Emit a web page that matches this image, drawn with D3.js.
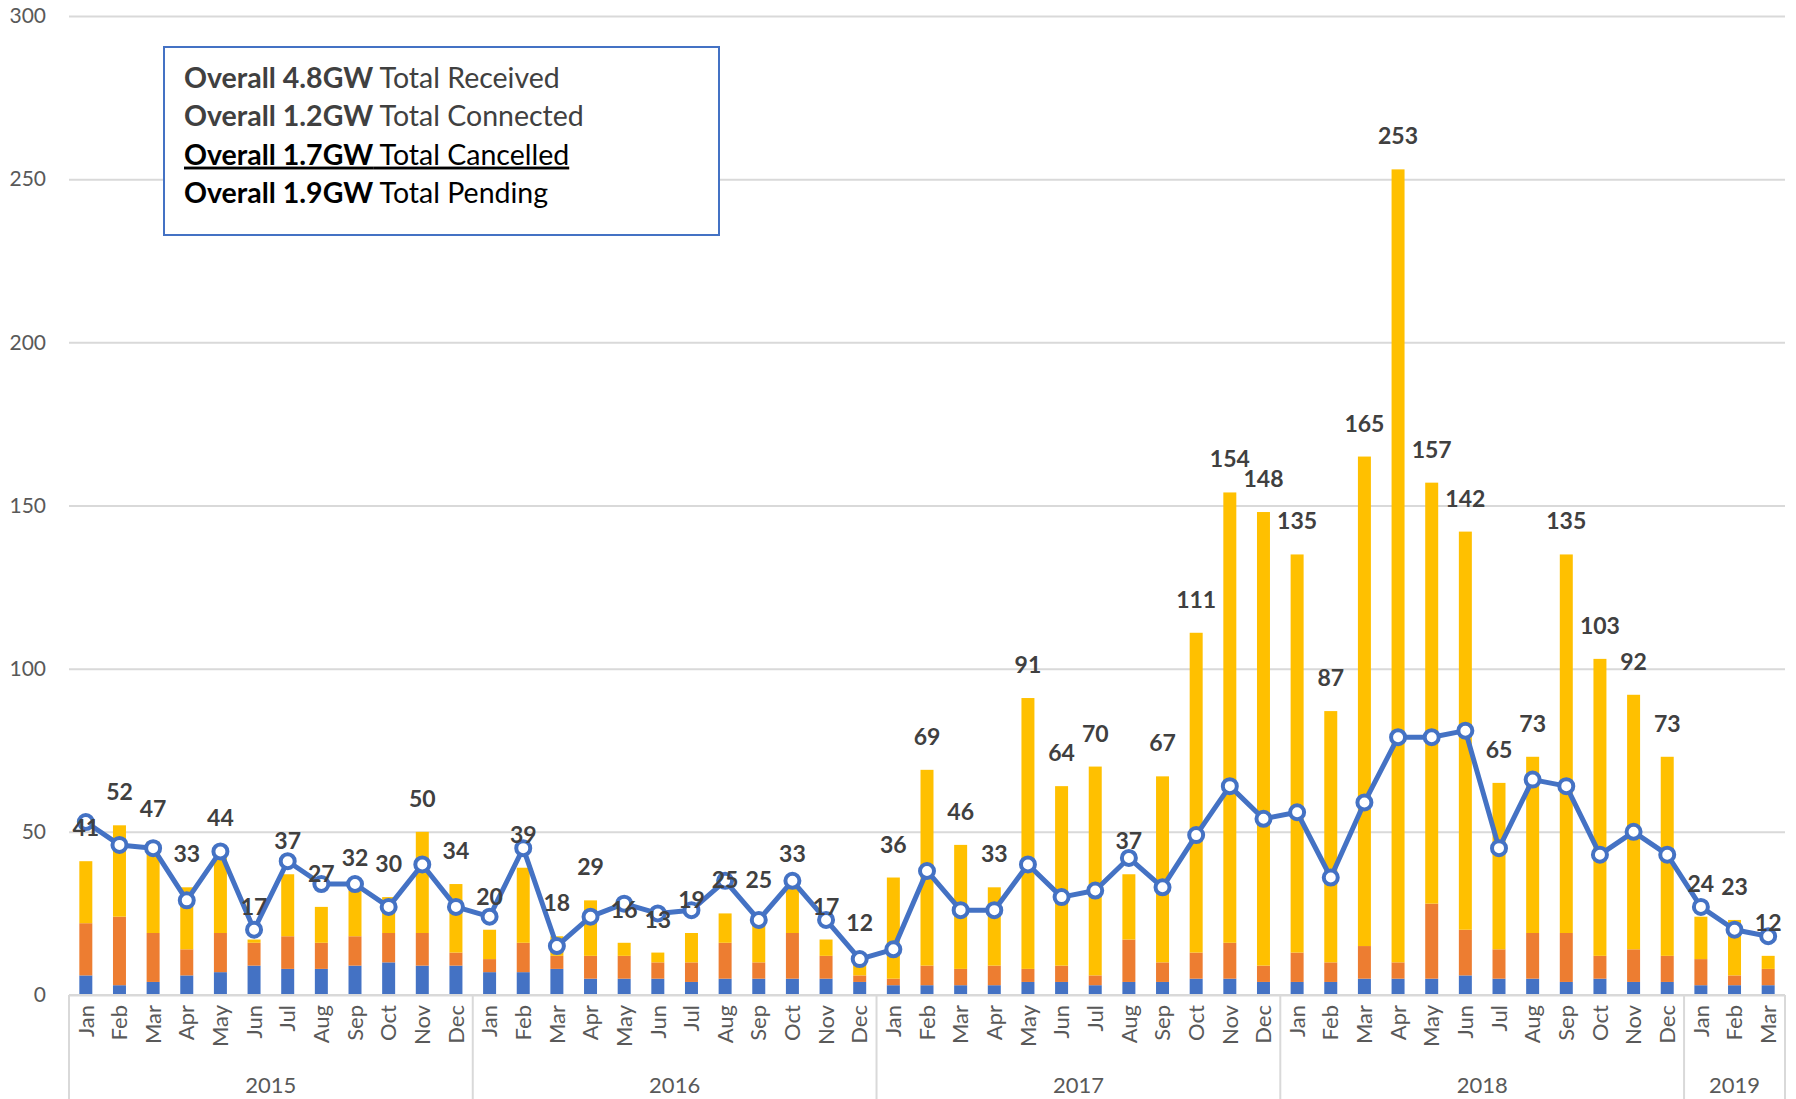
<!DOCTYPE html>
<html>

<head>
    <title>Monthly applications</title>
    <script src="https://cdn.jsdelivr.net/npm/d3@7"></script>
    <style>
        body {
            margin: 0;
            background: #fff;
        }

        text {
            font-family: Lato, "Open Sans", sans-serif;
        }
    </style>
</head>

<body>
    <svg width="1796" height="1099"></svg>
    <script>
        // categories
        const months = ['Jan', 'Feb', 'Mar', 'Apr', 'May', 'Jun', 'Jul', 'Aug', 'Sep', 'Oct', 'Nov', 'Dec',
            'Jan', 'Feb', 'Mar', 'Apr', 'May', 'Jun', 'Jul', 'Aug', 'Sep', 'Oct', 'Nov', 'Dec',
            'Jan', 'Feb', 'Mar', 'Apr', 'May', 'Jun', 'Jul', 'Aug', 'Sep', 'Oct', 'Nov', 'Dec',
            'Jan', 'Feb', 'Mar', 'Apr', 'May', 'Jun', 'Jul', 'Aug', 'Sep', 'Oct', 'Nov', 'Dec',
            'Jan', 'Feb', 'Mar']
        const years = ['2015', '2016', '2017', '2018', '2019']
        const monthsPerYear = [12, 12, 12, 12, 3]

        // stacked bars (blue / orange / yellow)
        const connected = [6, 3, 4, 6, 7, 9, 8, 8, 9, 10, 9, 9,
            7, 7, 8, 5, 5, 5, 4, 5, 5, 5, 5, 4,
            3, 3, 3, 3, 4, 4, 3, 4, 4, 5, 5, 4,
            4, 4, 5, 5, 5, 6, 5, 5, 4, 5, 4, 4,
            3, 3, 3]
        const cancelled = [16, 21, 15, 8, 12, 7, 10, 8, 9, 9, 10, 4,
            4, 9, 4, 7, 7, 5, 6, 11, 5, 14, 7, 2,
            2, 6, 5, 6, 4, 5, 3, 13, 6, 8, 11, 5,
            9, 6, 10, 5, 23, 14, 9, 14, 15, 7, 10, 8,
            8, 3, 5]
        const pending = [19, 28, 28, 19, 25, 1, 19, 11, 14, 11, 31, 21,
            9, 23, 6, 17, 4, 3, 9, 9, 15, 14, 5, 6,
            31, 60, 38, 24, 83, 55, 64, 20, 57, 98, 138, 139,
            122, 77, 150, 243, 129, 122, 51, 54, 116, 91, 78, 61,
            13, 17, 4]

        // line series
        const lineValues = [53, 46, 45, 29, 44, 20, 41, 34, 34, 27, 40, 27,
            24, 45, 15, 24, 28, 25, 26, 35, 23, 35, 23, 11,
            14, 38, 26, 26, 40, 30, 32, 42, 33, 49, 64, 54,
            56, 36, 59, 79, 79, 81, 45, 66, 64, 43, 50, 43,
            27, 20, 18]

        const yTicks = [0, 50, 100, 150, 200, 250, 300]

        const legendLines = [
            { bold: 'Overall 4.8GW', rest: 'Total Received', color: '#404040', underline: false },
            { bold: 'Overall 1.2GW', rest: 'Total Connected', color: '#404040', underline: false },
            { bold: 'Overall 1.7GW', rest: 'Total Cancelled', color: '#000000', underline: true },
            { bold: 'Overall 1.9GW', rest: 'Total Pending', color: '#000000', underline: false }
        ]

        const BLUE = '#4472C4'
        const ORANGE = '#ED7D31'
        const YELLOW = '#FFC000'
        const GRID = '#d9d9d9'
        const AXIS_TEXT = '#595959'
        const LABEL_TEXT = '#404040'

        const svg = d3.select('svg')
        const plotLeft = 69, plotRight = 1785, plotTop = 16, plotBottom = 995

        const idx = months.map((m, i) => i)
        const x = d3.scaleBand().domain(idx).range([plotLeft, plotRight]).paddingInner(0.614).paddingOuter(0.307)
        const y = d3.scaleLinear().domain([0, 300]).range([plotBottom, plotTop])

        // gridlines + y labels
        const yAxis = svg.append('g')
            .attr('transform', `translate(${plotLeft},0)`)
            .call(d3.axisLeft(y).tickValues(yTicks).tickSize(-(plotRight - plotLeft)).tickPadding(23))
        yAxis.select('.domain').remove()
        yAxis.selectAll('.tick line').attr('stroke', GRID).attr('stroke-width', 2)
        yAxis.selectAll('.tick text').attr('fill', AXIS_TEXT).style('font-size', '21px')

        // stacked bars
        const rows = idx.map(i => ({ i, connected: connected[i], cancelled: cancelled[i], pending: pending[i] }))
        const stack = d3.stack().keys(['connected', 'cancelled', 'pending'])(rows)
        const colors = { connected: BLUE, cancelled: ORANGE, pending: YELLOW }

        svg.append('g').selectAll('g').data(stack).join('g')
            .attr('fill', d => colors[d.key])
            .selectAll('rect').data(d => d).join('rect')
            .attr('x', d => x(d.data.i))
            .attr('width', x.bandwidth())
            .attr('y', d => y(d[1]))
            .attr('height', d => y(d[0]) - y(d[1]))

        // x axis line
        svg.append('line')
            .attr('x1', plotLeft).attr('x2', plotRight)
            .attr('y1', plotBottom).attr('y2', plotBottom)
            .attr('stroke', GRID).attr('stroke-width', 2)

        // month labels
        svg.append('g').selectAll('text').data(idx).join('text')
            .attr('transform', i => `translate(${x(i) + x.bandwidth() / 2},${plotBottom + 10}) rotate(-90)`)
            .attr('dy', '0.35em')
            .attr('text-anchor', 'end')
            .attr('fill', AXIS_TEXT)
            .style('font-size', '22px')
            .text(i => months[i])

        // year groups
        const step = x.step()
        let start = 0
        const groups = years.map((yr, k) => {
            const g = { year: yr, from: start, to: start + monthsPerYear[k] }
            start += monthsPerYear[k]
            return g
        })
        const bounds = [0, ...groups.map(g => g.to)]
        svg.append('g').selectAll('line').data(bounds).join('line')
            .attr('x1', b => plotLeft + b * step).attr('x2', b => plotLeft + b * step)
            .attr('y1', plotBottom).attr('y2', 1099)
            .attr('stroke', GRID).attr('stroke-width', 2)
        svg.append('g').selectAll('text').data(groups).join('text')
            .attr('x', g => plotLeft + (g.from + g.to) / 2 * step)
            .attr('y', 1093)
            .attr('text-anchor', 'middle')
            .attr('fill', AXIS_TEXT)
            .style('font-size', '22px')
            .text(g => g.year)

        // line with markers
        const cx = i => x(i) + x.bandwidth() / 2
        const line = d3.line().x((d, i) => cx(i)).y(d => y(d))
        svg.append('path')
            .datum(lineValues)
            .attr('d', line)
            .attr('fill', 'none')
            .attr('stroke', BLUE)
            .attr('stroke-width', 5)
            .attr('stroke-linejoin', 'round')
        svg.append('g').selectAll('circle').data(lineValues).join('circle')
            .attr('cx', (d, i) => cx(i))
            .attr('cy', d => y(d))
            .attr('r', 7)
            .attr('fill', '#fff')
            .attr('stroke', BLUE)
            .attr('stroke-width', 4)

        // total labels
        svg.append('g').selectAll('text').data(rows).join('text')
            .attr('x', d => cx(d.i))
            .attr('y', d => y(d.connected + d.cancelled + d.pending) - 25)
            .attr('text-anchor', 'middle')
            .attr('fill', LABEL_TEXT)
            .style('font-size', '23px')
            .style('font-weight', 'bold')
            .text(d => d.connected + d.cancelled + d.pending)

        // text box
        svg.append('rect')
            .attr('x', 164).attr('y', 47)
            .attr('width', 555).attr('height', 188)
            .attr('fill', '#fff')
            .attr('stroke', BLUE)
            .attr('stroke-width', 2)
        const lg = svg.append('g').selectAll('text').data(legendLines).join('text')
            .attr('x', 184)
            .attr('y', (d, i) => 88 + i * 38.3)
            .attr('fill', d => d.color)
            .style('font-size', '28.5px')
            .style('text-decoration', d => d.underline ? 'underline' : 'none')
        lg.append('tspan').style('font-weight', 'bold').text(d => d.bold)
        lg.append('tspan').text(d => ' ' + d.rest)
    </script>
</body>

</html>
